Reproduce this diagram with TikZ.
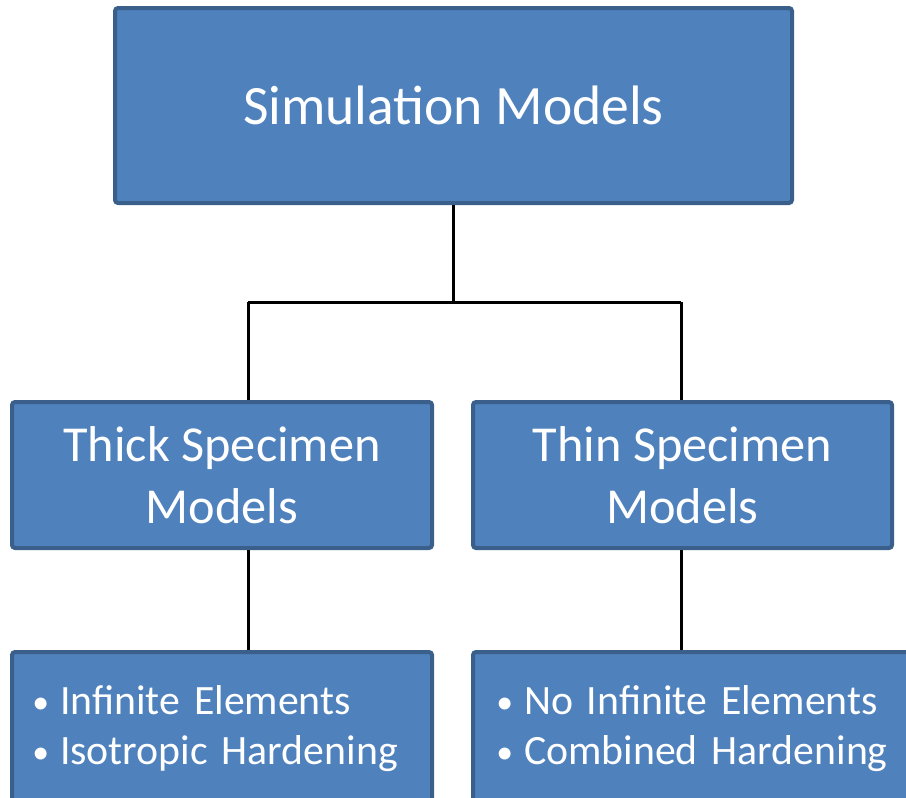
\documentclass[tikz,border=0pt]{standalone}
\usepackage{fontspec}
\setmainfont{Carlito}
\newlength\unitpx
\setlength\unitpx{0.025cm}
\definecolor{boxfill}{HTML}{4F81BD}
\definecolor{boxline}{HTML}{3A5F8B}
\newcommand\dotitem{\leavevmode\hbox to 17.1pt{\kern-2.5pt\raise0.8pt\hbox{\fontsize{24}{24}\selectfont\textbullet}\hss}}

\begin{document}
\begin{tikzpicture}[x=0.025cm,y=-0.025cm,
  box/.style={draw=boxline,fill=boxfill,line width=4\unitpx,rounded corners=3\unitpx,
    text=white,inner sep=0pt,align=center},
  infobox/.style={box,minimum height=154\unitpx,align=left,
    font=\fontsize{29.7}{35.6}\selectfont},
  link/.style={draw=black,line width=3\unitpx}]
  \useasboundingbox (0,0) rectangle (906,797);
  \clip (0,0) rectangle (906,797);
  % boxes
  \node[box,minimum width=677\unitpx,minimum height=195\unitpx,
    font=\fontsize{39.5}{48}\selectfont] (sim) at (453.5,105.5) {Simulation Models};
  \node[box,minimum width=420\unitpx,minimum height=146\unitpx,
    font=\fontsize{35.8}{44}\selectfont] (thick) at (222,475) {Thick Specimen\\Models};
  \node[box,minimum width=419\unitpx,minimum height=146\unitpx,
    font=\fontsize{35.8}{44}\selectfont] (thin) at (682.5,475) {Thin Specimen\\Models};
  \node[infobox,minimum width=420\unitpx,text width=372\unitpx] (thickinfo) at (222,729)
    {\dotitem Infinite Elements\\\dotitem Isotropic Hardening};
  \node[infobox,minimum width=447\unitpx,text width=393\unitpx] (thininfo) at (696.5,729)
    {\dotitem No Infinite Elements\\\dotitem Combined Hardening};
  % connectors
  \coordinate (joinL) at (248,302);
  \coordinate (joinR) at (681,302);
  \draw[link] (sim.south) -- (sim.south |- joinL);
  \draw[link] (joinL) -- (joinR);
  \draw[link] (joinL) -- (joinL |- thick.north);
  \draw[link] (joinR) -- (joinR |- thin.north);
  \draw[link] (joinL |- thick.south) -- (joinL |- thickinfo.north);
  \draw[link] (joinR |- thin.south) -- (joinR |- thininfo.north);
\end{tikzpicture}
\end{document}
